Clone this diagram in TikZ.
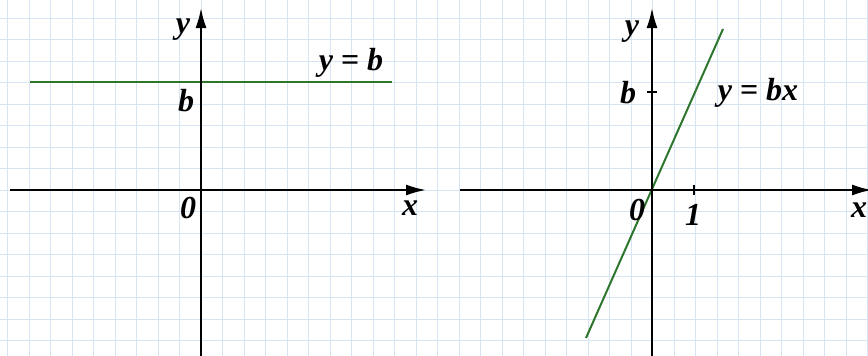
\documentclass[tikz,border=0pt]{standalone}
\usepackage{fontspec}
\setmainfont{Liberation Serif}
\usetikzlibrary{arrows.meta}
\definecolor{gridblue}{RGB}{214,228,243}
\definecolor{linegreen}{RGB}{46,118,46}
\tikzset{
  axis/.style={line width=2pt, black, -{Latex[length=20pt,width=11pt]}},
  graphline/.style={line width=2pt, linegreen},
  lbl/.style={font=\fontsize{32}{36}\selectfont\bfseries\itshape, inner sep=0pt},
  tickmark/.style={line width=1.5pt, black}
}
\begin{document}
\begin{tikzpicture}[x=1pt,y=-1pt]
\useasboundingbox (0,0) rectangle (868,356);
\fill[white] (0,0) rectangle (868,356);
% grid
\foreach \k in {-9,...,31} { \draw[gridblue, line width=1pt] ({201+21.5*\k},0) -- ({201+21.5*\k},356); }
\foreach \k in {-8,...,8} { \draw[gridblue, line width=1pt] (0,{190+21.5*\k}) -- (868,{190+21.5*\k}); }
% left panel
\coordinate (lxs) at (10,190);
\coordinate (lxe) at (426,190);
\coordinate (lys) at (201,356);
\coordinate (lye) at (201,8);
\coordinate (gl1) at (30,82);
\coordinate (gl2) at (392,82);
\draw[graphline] (gl1) -- (gl2);
\draw[axis] (lxs) -- (lxe);
\draw[axis] (lys) -- (lye);
\node[lbl] (ly) at (183,30) {y};
\node[lbl] (lb) at (186,101) {b};
\node[lbl] (l0) at (188,208) {0};
\node[lbl] (lx) at (410,208) {x};
\node[lbl] (leq) at (351,63) {y = b};
% right panel
\coordinate (rxs) at (460,190);
\coordinate (rxe) at (872,190);
\coordinate (rys) at (652,356);
\coordinate (rye) at (652,8);
\coordinate (gr1) at (586,338);
\coordinate (gr2) at (723,29);
\draw[graphline] (gr1) -- (gr2);
\draw[axis] (rxs) -- (rxe);
\draw[axis] (rys) -- (rye);
\coordinate (tb1) at (647,92);
\coordinate (tb2) at (657,92);
\coordinate (t11) at (694,185);
\coordinate (t12) at (694,195);
\draw[tickmark] (tb1) -- (tb2);
\draw[tickmark] (t11) -- (t12);
\node[lbl] (ry) at (632,32) {y};
\node[lbl] (rb) at (628,93) {b};
\node[lbl] (req) at (758,93) {y = bx};
\node[lbl] (r0) at (637,210) {0};
\node[lbl] (r1) at (693,215) {1};
\node[lbl] (rx) at (859,210) {x};
\end{tikzpicture}
\end{document}
